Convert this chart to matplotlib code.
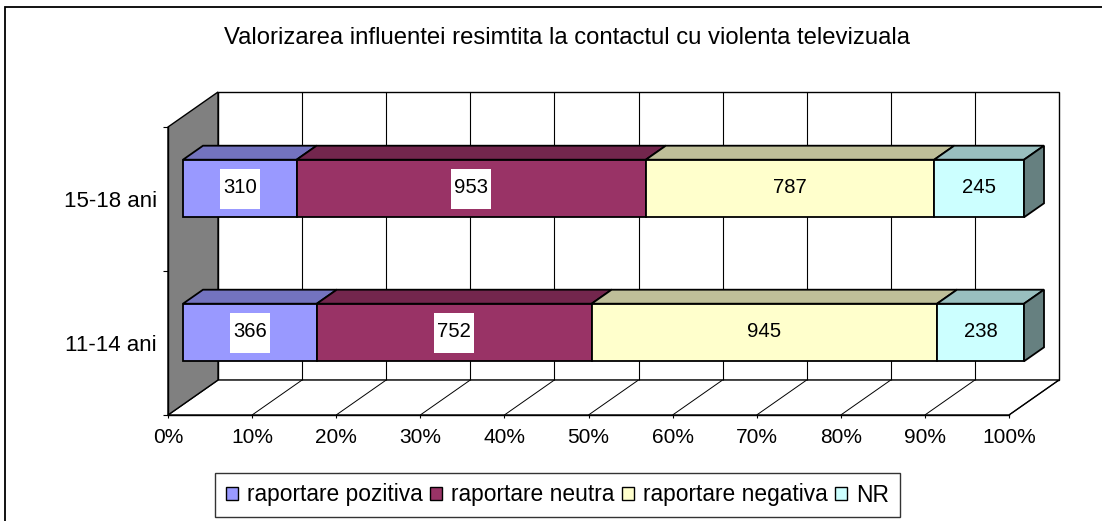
import matplotlib
matplotlib.use("Agg")
import matplotlib.pyplot as plt
from matplotlib.patches import Polygon, Rectangle, Patch
from matplotlib.transforms import IdentityTransform

plt.rcParams['font.family'] = ['Liberation Sans', 'DejaVu Sans']

# data
title = 'Valorizarea influentei resimtita la contactul cu violenta televizuala'
categories = ['11-14 ani', '15-18 ani']
series_names = ['raportare pozitiva', 'raportare neutra', 'raportare negativa', 'NR']
pozitiva = [366, 310]
neutra = [752, 953]
negativa = [945, 787]
nr = [238, 245]
pct_ticks = list(range(0, 101, 10))
pct_labels = [f'{t}%' for t in pct_ticks]

front_colors = ['#9999FF', '#993366', '#FFFFCC', '#CCFFFF']
top_colors = ['#7373BF', '#73264D', '#BFBF99', '#99BFBF']
side_color = '#668080'
boxed = [True, True, False, False]  # white label boxes only on the dark series

W, H, DPI = 1102, 521, 100
fig = plt.figure(figsize=(W / DPI, H / DPI), dpi=DPI)
fig.patch.set_facecolor('white')

# front plane of the fake 3D box
ax = fig.add_axes([168 / W, (H - 415) / H, 841 / W, 288 / H])
ax.set_xlim(0, 100)
ax.set_ylim(0, 2)
ax.patch.set_visible(False)

DEPTH = (50, 35)      # pixel offset from front plane to back wall
BAR_D = (0.3, 0.7)    # bars sit in the middle of the depth
BAR_H = 0.2           # half height of a bar in category units
ID = IdentityTransform()


def proj(x, y, d=0.0):
    px, py = ax.transData.transform((x, y))
    return (px + DEPTH[0] * d, py + DEPTH[1] * d)


def face(pts, fc, z, lw=1.0, ec='black'):
    poly = Polygon([proj(*p) for p in pts], closed=True, facecolor=fc, edgecolor=ec,
                   linewidth=lw, transform=ID, zorder=z, clip_on=False, joinstyle='miter')
    ax.add_patch(poly)


def seg(p, q, z, lw=0.8, color='black'):
    a, b = proj(*p), proj(*q)
    ax.plot([a[0], b[0]], [a[1], b[1]], color=color, lw=lw, transform=ID, zorder=z,
            clip_on=False, solid_capstyle='butt')


# walls and floor
face([(0, 0, 1), (100, 0, 1), (100, 2, 1), (0, 2, 1)], 'white', 0.5)
face([(0, 0, 0), (100, 0, 0), (100, 0, 1), (0, 0, 1)], 'white', 0.5)
for t in pct_ticks[1:-1]:
    seg((t, 0, 1), (t, 2, 1), 0.6)
for t in pct_ticks[1:]:
    seg((t, 0, 0), (t, 0, 1), 0.6, lw=0.7)
face([(0, 0, 0), (0, 2, 0), (0, 2, 1), (0, 0, 1)], '#808080', 0.7)

# stacked 100% bars
values = [pozitiva, neutra, negativa, nr]
d0, d1 = BAR_D
for i in range(len(categories)):
    total = sum(v[i] for v in values)
    yc = i + 0.5
    y0, y1 = yc - BAR_H, yc + BAR_H
    start = 0.0
    for j, v in enumerate(values):
        end = start + v[i] / total * 100
        face([(start, y1, d0), (end, y1, d0), (end, y1, d1), (start, y1, d1)], top_colors[j], 3, lw=1.3)
        face([(start, y0, d0), (end, y0, d0), (end, y1, d0), (start, y1, d0)], front_colors[j], 3.1, lw=1.3)
        if j == len(values) - 1:
            face([(end, y0, d0), (end, y1, d0), (end, y1, d1), (end, y0, d1)], side_color, 3.1, lw=1.3)
        cx, cy = proj((start + end) / 2, yc, d0)
        if boxed[j]:
            ax.add_patch(Rectangle((cx - 20, cy - 20), 40, 40, facecolor='white', edgecolor='none',
                                   transform=ID, zorder=4, clip_on=False))
        ax.text(cx, cy + 1, str(v[i]), transform=ID, ha='center', va='center',
                fontsize=14.6, zorder=5, clip_on=False)
        start = end

# axes
for s in ['top', 'right']:
    ax.spines[s].set_visible(False)
for s in ['left', 'bottom']:
    ax.spines[s].set_linewidth(1.0)
    ax.spines[s].set_zorder(0.8)
ax.set_xticks(pct_ticks, pct_labels)
ax.tick_params(axis='x', length=2.5, width=0.8, pad=7, labelsize=15)
ax.set_yticks([0, 1, 2], ['', '', ''])
ax.set_yticks([0.5, 1.5], categories, minor=True)
ax.tick_params(axis='y', which='major', length=3.6, width=0.8)
ax.tick_params(axis='y', which='minor', length=0, pad=8, labelsize=16)

fig.text(567 / W, (H - 38) / H, title, ha='center', va='center', fontsize=17.2)

handles = [Patch(facecolor=c, edgecolor='black', linewidth=1.0) for c in front_colors]
leg = fig.legend(handles, series_names, loc='center', bbox_to_anchor=(557.5 / W, (H - 495) / H),
                 ncol=4, frameon=True, fancybox=False, edgecolor='black', fontsize=16.4,
                 handlelength=0.55, handleheight=0.55, handletextpad=0.4, columnspacing=0.3,
                 borderpad=0.45, borderaxespad=0)
leg.get_frame().set_linewidth(1.0)

# outer chart frame (right and bottom edges fall outside the picture)
fig.add_artist(Rectangle((5, -20), 1200, H - 7 + 20, fill=False, edgecolor='black',
                         linewidth=1.3, transform=ID))

fig.savefig('out.png', dpi=DPI)
